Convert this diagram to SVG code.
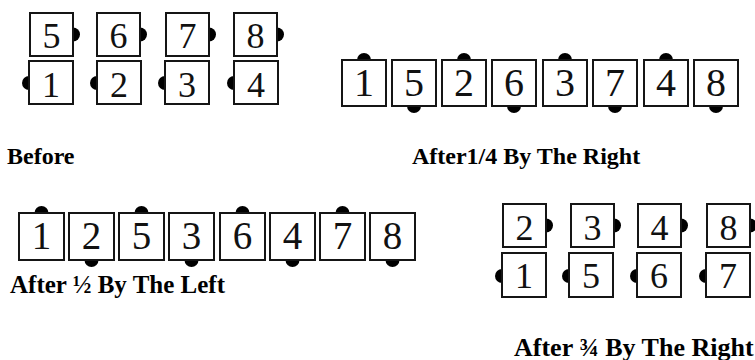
<svg xmlns="http://www.w3.org/2000/svg" width="755" height="360" viewBox="0 0 755 360">
<style>
.box{fill:#fff;stroke:#151515;stroke-width:2}
.knob{fill:#000}
.d{font-family:"Liberation Serif","Times New Roman",serif;text-anchor:middle;fill:#111}
.d36{font-size:36px}
.d40{font-size:40px}
.d39{font-size:39px}
.lbl{font-family:"Liberation Serif","Times New Roman",serif;font-weight:bold;fill:#000}
</style>
<rect width="755" height="360" fill="#fff"/>
<g id="connectors"></g>
<!-- Before: top row -->
<g id="b5"><circle class="knob" cx="73" cy="34.5" r="7"/><rect class="box" x="30" y="13" width="43" height="43"/><text class="d d36" x="51.5" y="48">5</text></g>
<g id="b6"><circle class="knob" cx="140" cy="34.5" r="7"/><rect class="box" x="97" y="13" width="43" height="43"/><text class="d d36" x="118.5" y="48">6</text></g>
<g id="b7"><circle class="knob" cx="209" cy="34.5" r="7"/><rect class="box" x="166" y="13" width="43" height="43"/><text class="d d36" x="187.5" y="48">7</text></g>
<g id="b8"><circle class="knob" cx="277" cy="34.5" r="7"/><rect class="box" x="234" y="13" width="43" height="43"/><text class="d d36" x="255.5" y="48">8</text></g>
<!-- Before: bottom row -->
<g id="b1"><circle class="knob" cx="29" cy="83" r="7"/><rect class="box" x="29" y="61" width="44" height="43"/><text class="d d36" x="51" y="97">1</text></g>
<g id="b2"><circle class="knob" cx="97" cy="83" r="7"/><rect class="box" x="97" y="61" width="44" height="43"/><text class="d d36" x="119" y="97">2</text></g>
<g id="b3"><circle class="knob" cx="165" cy="83" r="7"/><rect class="box" x="165" y="61" width="44" height="43"/><text class="d d36" x="187" y="97">3</text></g>
<g id="b4"><circle class="knob" cx="234" cy="83" r="7"/><rect class="box" x="234" y="61" width="44" height="43"/><text class="d d36" x="256" y="97">4</text></g>
<!-- After 1/4 -->
<g id="q1"><circle class="knob" cx="364" cy="60" r="7"/><rect class="box" x="342" y="60" width="44" height="46"/><text class="d d40" x="364" y="96">1</text></g>
<g id="q5"><circle class="knob" cx="414" cy="106" r="7"/><rect class="box" x="392" y="60" width="44" height="46"/><text class="d d40" x="414" y="96">5</text></g>
<g id="q2"><circle class="knob" cx="464" cy="60" r="7"/><rect class="box" x="442" y="60" width="44" height="46"/><text class="d d40" x="464" y="96">2</text></g>
<g id="q6"><circle class="knob" cx="514" cy="106" r="7"/><rect class="box" x="492" y="60" width="44" height="46"/><text class="d d40" x="514" y="96">6</text></g>
<g id="q3"><circle class="knob" cx="565" cy="60" r="7"/><rect class="box" x="543" y="60" width="44" height="46"/><text class="d d40" x="565" y="96">3</text></g>
<g id="q7"><circle class="knob" cx="615" cy="106" r="7"/><rect class="box" x="593" y="60" width="44" height="46"/><text class="d d40" x="615" y="96">7</text></g>
<g id="q4"><circle class="knob" cx="666" cy="60" r="7"/><rect class="box" x="644" y="60" width="44" height="46"/><text class="d d40" x="666" y="96">4</text></g>
<g id="q8"><circle class="knob" cx="716" cy="106" r="7"/><rect class="box" x="694" y="60" width="44" height="46"/><text class="d d40" x="716" y="96">8</text></g>
<!-- After 1/2 -->
<g id="h1"><circle class="knob" cx="41.5" cy="213" r="7"/><rect class="box" x="19" y="213" width="45" height="47"/><text class="d d39" x="41.5" y="249">1</text></g>
<g id="h2"><circle class="knob" cx="91.5" cy="260" r="7"/><rect class="box" x="69" y="213" width="45" height="47"/><text class="d d39" x="91.5" y="249">2</text></g>
<g id="h5"><circle class="knob" cx="141.5" cy="213" r="7"/><rect class="box" x="119" y="213" width="45" height="47"/><text class="d d39" x="141.5" y="249">5</text></g>
<g id="h3"><circle class="knob" cx="191.5" cy="260" r="7"/><rect class="box" x="169" y="213" width="45" height="47"/><text class="d d39" x="191.5" y="249">3</text></g>
<g id="h6"><circle class="knob" cx="242.5" cy="213" r="7"/><rect class="box" x="220" y="213" width="45" height="47"/><text class="d d39" x="242.5" y="249">6</text></g>
<g id="h4"><circle class="knob" cx="292.5" cy="260" r="7"/><rect class="box" x="270" y="213" width="45" height="47"/><text class="d d39" x="292.5" y="249">4</text></g>
<g id="h7"><circle class="knob" cx="342.5" cy="213" r="7"/><rect class="box" x="320" y="213" width="45" height="47"/><text class="d d39" x="342.5" y="249">7</text></g>
<g id="h8"><circle class="knob" cx="392.5" cy="260" r="7"/><rect class="box" x="370" y="213" width="45" height="47"/><text class="d d39" x="392.5" y="249">8</text></g>
<!-- After 3/4: top row -->
<g id="t2"><circle class="knob" cx="546" cy="225.5" r="7"/><rect class="box" x="503" y="204" width="43" height="43"/><text class="d d36" x="524.5" y="240">2</text></g>
<g id="t3"><circle class="knob" cx="614" cy="225.5" r="7"/><rect class="box" x="571" y="204" width="43" height="43"/><text class="d d36" x="592.5" y="240">3</text></g>
<g id="t4"><circle class="knob" cx="681" cy="225.5" r="7"/><rect class="box" x="638" y="204" width="43" height="43"/><text class="d d36" x="659.5" y="240">4</text></g>
<g id="t8"><circle class="knob" cx="750" cy="225.5" r="7"/><rect class="box" x="707" y="204" width="43" height="43"/><text class="d d36" x="728.5" y="240">8</text></g>
<!-- After 3/4: bottom row -->
<g id="t1"><circle class="knob" cx="502" cy="276" r="7"/><rect class="box" x="502" y="253" width="44" height="44"/><text class="d d36" x="524" y="288">1</text></g>
<g id="t5"><circle class="knob" cx="569" cy="276" r="7"/><rect class="box" x="569" y="253" width="44" height="44"/><text class="d d36" x="591" y="288">5</text></g>
<g id="t6"><circle class="knob" cx="637" cy="276" r="7"/><rect class="box" x="637" y="253" width="44" height="44"/><text class="d d36" x="659" y="288">6</text></g>
<g id="t7"><circle class="knob" cx="706" cy="276" r="7"/><rect class="box" x="706" y="253" width="44" height="44"/><text class="d d36" x="728" y="288">7</text></g>
<!-- Labels -->
<g id="labels">
<text class="lbl" x="7" y="164" font-size="24">Before</text>
<text class="lbl" x="412" y="164" font-size="24">After1/4 By The Right</text>
<text class="lbl" x="10" y="293" font-size="25">After ½ By The Left</text>
<text class="lbl" x="514" y="356" font-size="26">After ¾ By The Right</text>
</g>
</svg>
